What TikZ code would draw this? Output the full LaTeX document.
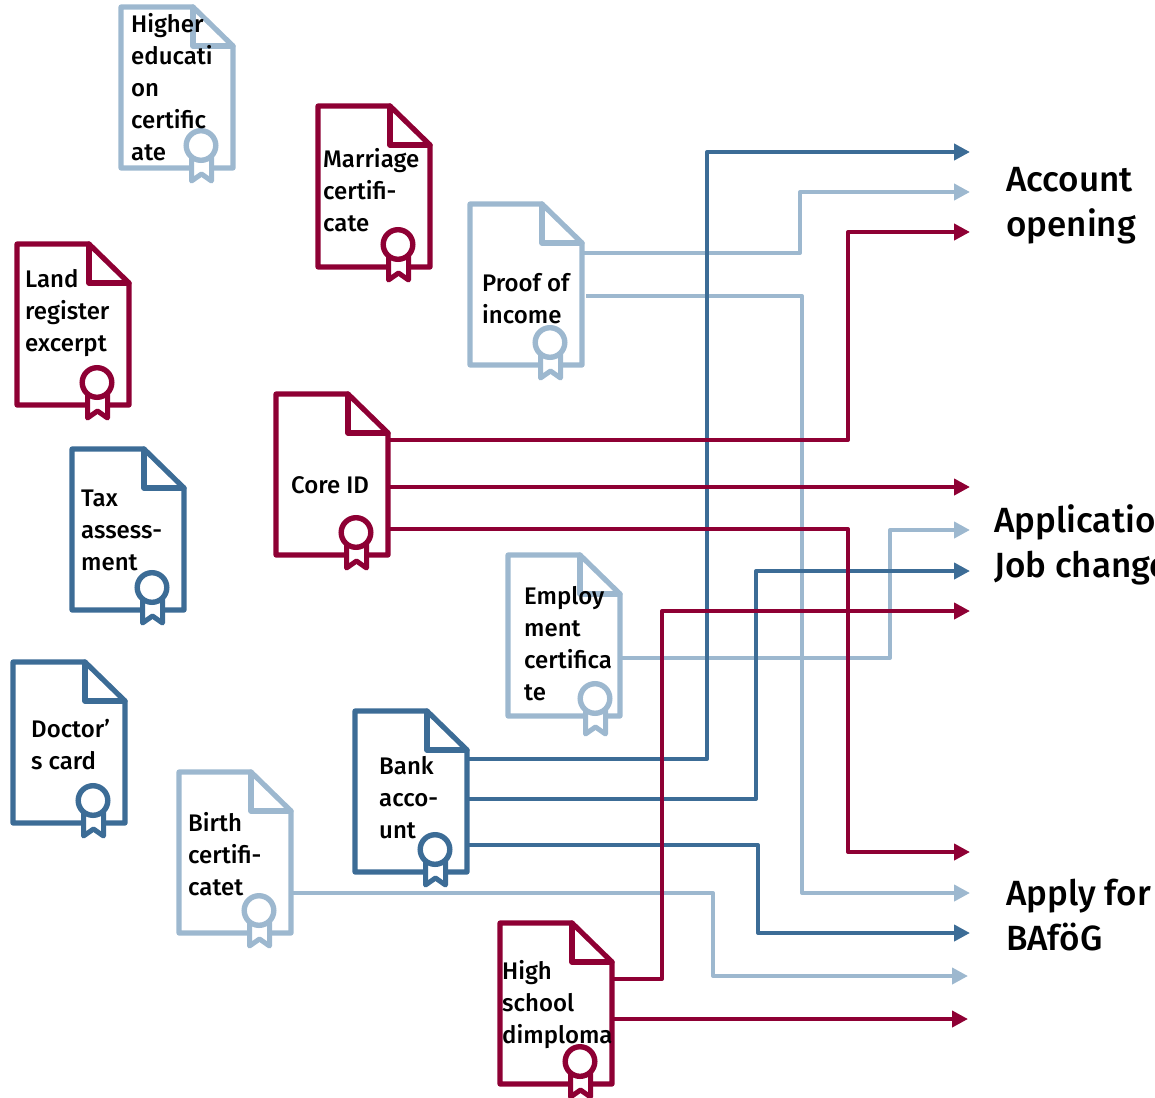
\documentclass[tikz,border=0pt]{standalone}
\usepackage{fontspec}
\setmainfont{Fira Sans Medium}
\usetikzlibrary{arrows.meta}
\definecolor{cred}{HTML}{8E0034}
\definecolor{cblue}{HTML}{3C6C96}
\definecolor{clight}{HTML}{9DB8CF}
\tikzset{
  docbox/.style={inner sep=0pt,minimum width=112pt,minimum height=162pt,anchor=north west,draw=none},
  docline/.style={line width=5.2pt,line join=round,line cap=round},
  doctext/.style={inner sep=0pt,anchor=north west,align=left,text=black,font=\fontsize{24}{32}\selectfont},
  headtext/.style={inner sep=0pt,anchor=north west,align=left,text=black,font=\fontsize{35}{45}\selectfont},
  link/.style={line width=4pt,line join=round,-{Triangle[length=16pt,width=16pt]}},
}
\newcommand{\docicon}[8][0,0]{%
  \node[docbox] (#2) at (#3,#4) {};
  \begin{scope}[shift={(#3,#4)}]
    \draw[docline,draw=#5] (0,0) -- (72,0) -- (112,39) -- (112,161) -- (0,161) -- cycle;
    \draw[docline,draw=#5] (72,0) -- (72,39) -- (112,39);
    \begin{scope}[shift={(#1)}]
    \draw[line width=5pt,line join=round,draw=#5,fill=white] (70.5,150) -- (70.5,174) -- (80.5,167) -- (90.5,174) -- (90.5,150) -- cycle;
    \draw[line width=5.4pt,draw=#5,fill=white] (80,138.5) circle[radius=14.8];
    \end{scope}
  \end{scope}
  \node[doctext] (#2t) at (#6,#7) {#8};
}
\begin{document}
\begin{tikzpicture}[x=1pt,y=-1pt]
\useasboundingbox (0,0) rectangle (1155,1097);
% free ends
\foreach \n/\yy in {a1/152,a2/192,a3/232,b1/487,b2/530,b3/571,b4/611,c1/852,c2/893,c3/933}
  \coordinate (\n) at (970,\yy);
\coordinate (c4) at (968,976);
\coordinate (c5) at (968,1019);

\docicon{higher}{121}{7}{clight}{131}{13}{Higher\\educati\\on\\certific\\ate}
\docicon{marriage}{318}{106}{cred}{323}{148}{Marriage\\certifi-\\cate}
\docicon{proof}{470}{204}{clight}{482}{273}{Proof of\\income}
\docicon{land}{17}{244}{cred}{25}{269}{Land\\register\\excerpt}
\docicon{core}{276}{394}{cred}{291}{476}{Core ID}
\docicon{tax}{72}{449}{cblue}{81}{490}{Tax\\assess-\\ment}
\docicon[7,5]{employ}{508}{555}{clight}{524}{586}{Employ\\ment\\certifica\\te}
\docicon{doctor}{13}{662}{cblue}{31}{719}{Doctor\symbol{39}\\s card}
\docicon{bank}{355}{711}{cblue}{379}{756}{Bank\\acco-\\unt}
\docicon{birth}{179}{772}{clight}{188}{812}{Birth\\certifi-\\catet}
\docicon{high}{500}{923}{cred}{502}{960}{High\\school\\dimploma}

\draw[link,draw=clight] (proof.north east |- 582,253) -| (800,192) -- (a2);
\draw[link,draw=clight] (586,296) -| (802,893) -- (c2);
\draw[link,draw=clight] (employ.north east |- 621,658) -| (890,530) -- (b2);
\draw[link,draw=clight] (birth.north east |- 292,893) -| (713,976) -- (c4);
\draw[link,draw=cblue] (bank.north east |- 468,759) -| (707,152) -- (a1);
\draw[link,draw=cblue] (bank.north east |- 468,799) -| (756,571) -- (b3);
\draw[link,draw=cblue] (bank.north east |- 468,845) -| (758,933) -- (c3);
\draw[link,draw=cred] (core.north east |- 388,440) -| (848,232) -- (a3);
\draw[link,draw=cred] (core.north east |- 388,487) -- (b1);
\draw[link,draw=cred] (core.north east |- 388,529) -| (848,852) -- (c1);
\draw[link,draw=cred] (high.north east |- 612,979) -| (662,611) -- (b4);
\draw[link,draw=cred] (high.north east |- 612,1019) -- (c5);

\node[headtext] (account) at (1006,167) {Account\\opening};
\node[headtext] (application) at (994,504) {Application\\Job change};
\node[headtext] (bafoeg) at (1006,879) {Apply for\\BAföG};
\end{tikzpicture}
\end{document}
